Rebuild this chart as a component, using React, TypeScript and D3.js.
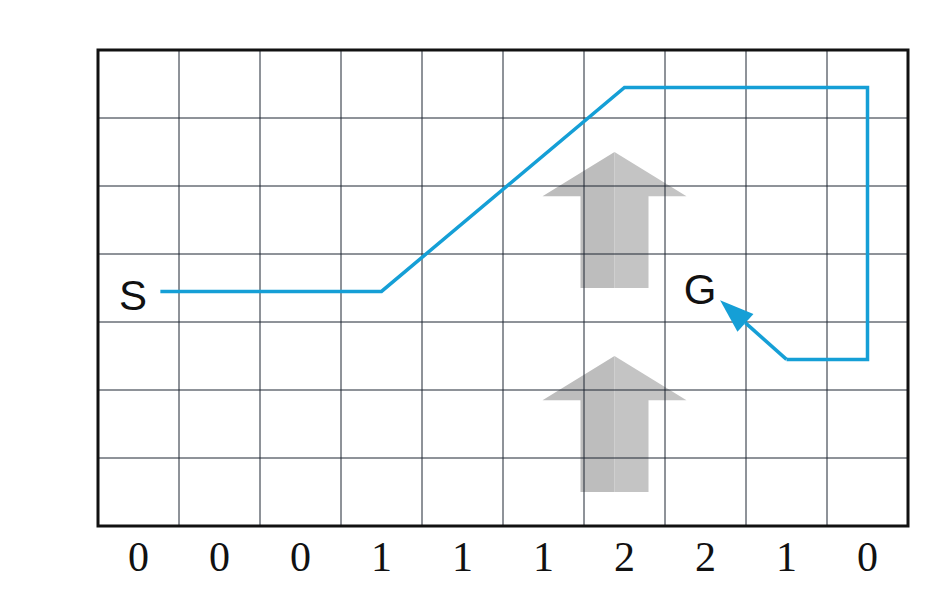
import * as d3 from "d3";

const cols = d3.range(10);
const rows = d3.range(7);
const wind = [0, 0, 0, 1, 1, 1, 2, 2, 1, 0];
// path in cell coords [col, row]
const pathCells: [number, number][] = [[0, 3], [3, 3], [6, 0], [9, 0], [9, 4], [8, 4]];
const arrowEnd: [number, number] = [7.68, 3.68];
const startX = 0.77;
// wind arrows: [col, rowTop, rowBottom]
const windArrows: [number, number, number][] = [[6, 1.5, 3.5], [6, 4.5, 6.5]];

export default function App() {
  const x = d3.scaleLinear().domain([0, 10]).range([98, 908]);
  const y = d3.scaleLinear().domain([0, 7]).range([50, 526]);
  const cx = (c: number) => x(c + 0.5);
  const cy = (r: number) => y(r + 0.55);
  const line = d3.line<[number, number]>().x(d => cx(d[0])).y(d => cy(d[1]));
  const pts: [number, number][] = [[startX - 0.5, 3], ...pathCells.slice(1)];
  const tipX = x(arrowEnd[0]), tipY = y(arrowEnd[1]);
  const from: [number, number] = [cx(8), cy(4)];
  const ang = Math.atan2(tipY - from[1], tipX - from[0]);
  const hl = 34, hw = 12;
  const bx = tipX - hl * Math.cos(ang), by = tipY - hl * Math.sin(ang);
  const head = [
    [tipX, tipY],
    [bx + hw * Math.sin(ang), by - hw * Math.cos(ang)],
    [bx - hw * Math.sin(ang), by + hw * Math.cos(ang)],
  ];
  return (
    <svg width={937} height={593} style={{ position: "absolute", left: 0, top: 0 }}>
      <rect width={937} height={593} fill="#fff" />
      {windArrows.map(([c, r0, r1], i) => {
        const m = cx(c) - 10;
        const top = y(r0), base = y(r0 + 0.65), bot = y(r1);
        return (
          <g key={i}>
            <polygon points={`${m},${top} ${m + 72},${base} ${m + 34},${base} ${m + 34},${bot} ${m},${bot}`} fill="#c4c4c4" />
            <polygon points={`${m},${top} ${m - 72},${base} ${m - 34},${base} ${m - 34},${bot} ${m},${bot}`} fill="#bdbdbd" />
          </g>
        );
      })}
      {cols.slice(1).map(c => <line key={"c" + c} x1={x(c)} x2={x(c)} y1={y(0)} y2={y(7)} stroke="#1e2733" strokeWidth={1} />)}
      {rows.slice(1).map(r => <line key={"r" + r} y1={y(r)} y2={y(r)} x1={x(0)} x2={x(10)} stroke="#1e2733" strokeWidth={1} />)}
      <rect x={x(0)} y={y(0)} width={x(10) - x(0)} height={y(7) - y(0)} fill="none" stroke="#111" strokeWidth={3} />
      <path d={line(pts) ?? ""} fill="none" stroke="#159fd6" strokeWidth={3.5} />
      <line x1={from[0]} y1={from[1]} x2={bx} y2={by} stroke="#159fd6" strokeWidth={3.5} />
      <polygon points={head.map(p => p.join(",")).join(" ")} fill="#159fd6" />
      <text x={133} y={310} fontSize={42} fontFamily="Liberation Sans, Arial" textAnchor="middle" fill="#111">S</text>
      <text x={700} y={304} fontSize={42} fontFamily="Liberation Sans, Arial" textAnchor="middle" fill="#111">G</text>
      {wind.map((w, i) => (
        <text key={i} x={cx(i)} y={571} fontSize={42} fontFamily="Liberation Serif, Times New Roman, serif" textAnchor="middle" fill="#111">{w}</text>
      ))}
    </svg>
  );
}
